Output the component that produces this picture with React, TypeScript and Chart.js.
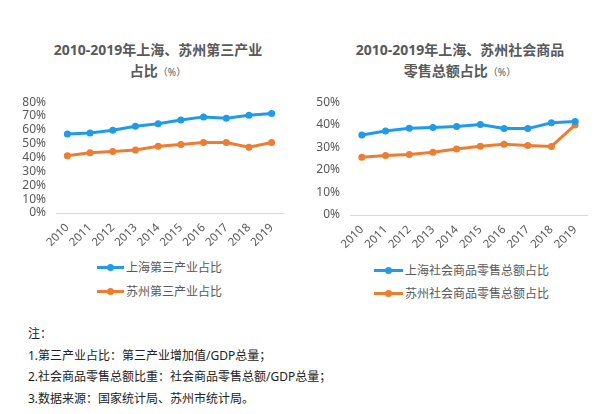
import React, { useEffect, useRef } from "react";
import { Chart, registerables } from "chart.js";

Chart.register(...registerables);

const years = ["2010", "2011", "2012", "2013", "2014", "2015", "2016", "2017", "2018", "2019"];

const shTertiary = [57.0, 57.7, 59.7, 62.6, 64.4, 67.1, 69.4, 68.5, 70.5, 71.8];
const szTertiary = [41.4, 43.5, 44.4, 45.5, 48.2, 49.5, 50.9, 50.9, 47.5, 50.9];

const shRetail = [35.5, 37.2, 38.4, 38.8, 39.2, 40.1, 38.3, 38.3, 40.9, 41.4];
const szRetail = [25.6, 26.4, 26.8, 27.8, 29.3, 30.5, 31.4, 30.8, 30.4, 39.9];

const title1 = "2010-2019年上海、苏州第三产业";
const title1b = "占比";
const title2 = "2010-2019年上海、苏州社会商品";
const title2b = "零售总额占比";
const unit = "（%）";

const series1Names = ["上海第三产业占比", "苏州第三产业占比"];
const series2Names = ["上海社会商品零售总额占比", "苏州社会商品零售总额占比"];

const notes = [
  "注：",
  "1.第三产业占比：第三产业增加值/GDP总量；",
  "2.社会商品零售总额比重：社会商品零售总额/GDP总量；",
  "3.数据来源：国家统计局、苏州市统计局。",
];

const BLUE = "#1F9BEA";
const ORANGE = "#ED7D31";
const TEXT = "#595959";
const FONT = "'Noto Sans', 'Noto Sans CJK SC', sans-serif";

function LineChart(props: {
  a: number[];
  b: number[];
  names: string[];
  max: number;
  yWidth: number;
  xHeight: number;
  padTop: number;
  padRight: number;
  style: React.CSSProperties;
}) {
  const ref = useRef<HTMLCanvasElement>(null);
  useEffect(() => {
    const ds = (name: string, data: number[], color: string) => ({
      label: name,
      data,
      borderColor: color,
      backgroundColor: color,
      borderWidth: 3,
      pointRadius: 3.5,
      pointBorderWidth: 0,
      pointBackgroundColor: color,
      tension: 0,
    });
    const chart = new Chart(ref.current!, {
      type: "line",
      data: {
        labels: years,
        datasets: [ds(props.names[0], props.a, BLUE), ds(props.names[1], props.b, ORANGE)],
      },
      options: {
        animation: false,
        responsive: false,
        maintainAspectRatio: false,
        layout: { padding: { top: props.padTop, right: props.padRight, left: 0, bottom: 0 } },
        plugins: { legend: { display: false }, title: { display: false }, tooltip: { enabled: false } },
        scales: {
          x: {
            offset: true,
            grid: { display: false, drawTicks: false },
            border: { display: true, color: "#D9D9D9", width: 1 },
            ticks: {
              autoSkip: false,
              minRotation: 45,
              maxRotation: 45,
              padding: 8,
              color: TEXT,
              font: { family: FONT, size: 11.5 },
            },
            afterFit: (s: any) => {
              s.height = props.xHeight;
            },
          },
          y: {
            min: 0,
            max: props.max,
            grid: { display: false, drawTicks: false },
            border: { display: false },
            ticks: {
              autoSkip: false,
              stepSize: 10,
              padding: 10,
              color: TEXT,
              font: { family: FONT, size: 12 },
              callback: (v: any) => v + "%",
            },
            afterFit: (s: any) => {
              s.width = props.yWidth;
            },
          },
        },
      },
    });
    return () => chart.destroy();
  }, []);
  return (
    <canvas
      ref={ref}
      width={props.style.width as number}
      height={props.style.height as number}
      style={{ position: "absolute", ...props.style }}
    />
  );
}

function LegendItem(props: { color: string; label: string; x: number; y: number; lineW: number }) {
  return (
    <div
      style={{
        position: "absolute",
        left: props.x,
        top: props.y - 10,
        height: 20,
        display: "flex",
        alignItems: "center",
        whiteSpace: "nowrap",
      }}
    >
      <div style={{ position: "relative", width: props.lineW, height: 20, marginRight: 2 }}>
        <div
          style={{
            position: "absolute",
            left: 0,
            right: 0,
            top: 8.5,
            height: 3,
            background: props.color,
          }}
        />
        <div
          style={{
            position: "absolute",
            left: props.lineW / 2 - 3.5,
            top: 6.5,
            width: 7,
            height: 7,
            borderRadius: 4,
            background: props.color,
          }}
        />
      </div>
      <span style={{ fontFamily: FONT, fontSize: 12, color: TEXT }}>{props.label}</span>
    </div>
  );
}

function Title(props: { l1: string; l2: string; cx: number; y: number }) {
  const common: React.CSSProperties = {
    position: "absolute",
    width: 300,
    left: props.cx - 150,
    textAlign: "center",
    fontFamily: FONT,
    fontWeight: "bold",
    fontSize: 14,
    color: TEXT,
    whiteSpace: "nowrap",
    lineHeight: "20px",
  };
  return (
    <>
      <div style={{ ...common, top: props.y }}>{props.l1}</div>
      <div style={{ ...common, top: props.y + 21 }}>
        {props.l2}
        <span style={{ fontSize: 10, fontWeight: "normal" }}>{unit}</span>
      </div>
    </>
  );
}

export default function App() {
  return (
    <div
      style={{
        position: "absolute",
        left: 0,
        top: 0,
        width: 615,
        height: 414,
        background: "#fff",
        overflow: "hidden",
      }}
    >
      <Title l1={title1} l2={title1b} cx={158} y={40} />
      <Title l1={title2} l2={title2b} cx={460} y={40} />
      <LineChart
        a={shTertiary}
        b={szTertiary}
        names={series1Names}
        max={80}
        yWidth={56}
        xHeight={42}
        padTop={9}
        padRight={17}
        style={{ left: 0, top: 85, width: 300, height: 170 }}
      />
      <LineChart
        a={shRetail}
        b={szRetail}
        names={series2Names}
        max={50}
        yWidth={50}
        xHeight={40}
        padTop={9}
        padRight={28}
        style={{ left: 300, top: 85, width: 315, height: 170 }}
      />
      <LegendItem color={BLUE} label={series1Names[0]} x={97} y={267} lineW={27} />
      <LegendItem color={ORANGE} label={series1Names[1]} x={97} y={291} lineW={27} />
      <LegendItem color={BLUE} label={series2Names[0]} x={374} y={270} lineW={29} />
      <LegendItem color={ORANGE} label={series2Names[1]} x={374} y={293} lineW={29} />
      {notes.map((t, i) => (
        <div
          key={i}
          style={{
            position: "absolute",
            left: 28,
            top: 325 + i * 21.7,
            fontFamily: FONT,
            fontSize: 12,
            color: "#222",
            whiteSpace: "nowrap",
            lineHeight: "18px",
          }}
        >
          {t}
        </div>
      ))}
    </div>
  );
}
